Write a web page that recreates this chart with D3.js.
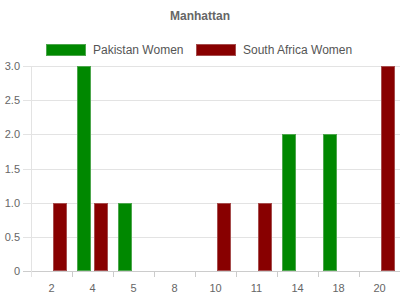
<!DOCTYPE html>
<html><head><meta charset="utf-8">
<script src="https://cdn.jsdelivr.net/npm/d3@7"></script>
<style>body{margin:0;background:#fff}svg{display:block;font-family:"Liberation Sans",Arial,sans-serif}</style>
</head><body><svg id="c" width="400" height="300"></svg>
<script>
const categories = ["2","4","5","8","10","11","14","18","20"];
const seriesNames = ["Pakistan Women","South Africa Women"];
const pakistan = [0,3,1,0,0,0,2,2,0];
const southAfrica = [1,1,0,0,1,1,0,0,3];
const yTicks = [0,0.5,1,1.5,2,2.5,3];
const colors = ["#008800","#880000"];
const strokes = ["#4da64d","#a64d4d"];

const svg = d3.select("#c");
const m = {l:31, r:0, t:66, b:29};
const W = 400, H = 300;
const x0 = d3.scaleBand().domain(categories).range([m.l, W - m.r]).padding(0);
const x1 = d3.scaleBand().domain(seriesNames).range([0, x0.bandwidth()]).paddingInner(0.125).paddingOuter(0.34);
const y = d3.scaleLinear().domain([0,3]).range([H - m.b, m.t]);

svg.append("text").attr("x",200).attr("y",20).attr("text-anchor","middle")
  .attr("font-size",12).attr("font-weight","bold").attr("fill","#666").text("Manhattan");

// grid
svg.append("g").selectAll("line").data(yTicks).join("line")
  .attr("x1", m.l - 8).attr("x2", W).attr("y1", d => Math.round(y(d)) + 0.5).attr("y2", d => Math.round(y(d)) + 0.5)
  .attr("stroke", d => d === 0 ? "#ccc" : "#e3e3e3");
svg.append("g").selectAll("text").data(yTicks).join("text")
  .attr("x", 20).attr("y", d => y(d) + 4).attr("text-anchor","end")
  .attr("font-size",11).attr("fill","#666").text(d => d === 0 ? "0" : d.toFixed(1));

// vertical axis line
svg.append("line").attr("x1", m.l + 0.5).attr("x2", m.l + 0.5).attr("y1", m.t).attr("y2", H - m.b + 6).attr("stroke","#e3e3e3");
// x ticks at category boundaries
const bounds = categories.slice(1).map(c => x0(c));
svg.append("g").selectAll("line").data(bounds).join("line")
  .attr("x1", d => Math.round(d) + 0.5).attr("x2", d => Math.round(d) + 0.5)
  .attr("y1", H - m.b).attr("y2", H - m.b + 6).attr("stroke","#ccc");
svg.append("g").selectAll("text").data(categories).join("text")
  .attr("x", d => x0(d) + x0.bandwidth()/2).attr("y", 292).attr("text-anchor","middle")
  .attr("font-size",11).attr("fill","#666").text(d => d);

// bars
const data = [pakistan, southAfrica];
data.forEach((vals, si) => {
  svg.append("g").selectAll("rect").data(vals.map((v,i)=>({c:categories[i], v}))).join("rect")
    .filter(d => d.v > 0)
    .attr("x", d => Math.round(x0(d.c) + x1(seriesNames[si])) + 0.5)
    .attr("y", d => Math.round(y(d.v)) + 0.5)
    .attr("width", Math.round(x1.bandwidth()) - 1)
    .attr("height", d => Math.round(y(0)) - Math.round(y(d.v)) - 1)
    .attr("fill", colors[si]).attr("stroke", strokes[si]).attr("stroke-width",1);
});

// legend
const leg = [{x:46, tx:93}, {x:196, tx:243}];
seriesNames.forEach((s,i) => {
  svg.append("rect").attr("x", leg[i].x + 0.5).attr("y", 44.5).attr("width", 39).attr("height", 11)
    .attr("fill", colors[i]).attr("stroke", strokes[i]);
  svg.append("text").attr("x", leg[i].tx).attr("y", 54).attr("font-size",12).attr("fill","#555").text(s);
});
</script></body></html>
